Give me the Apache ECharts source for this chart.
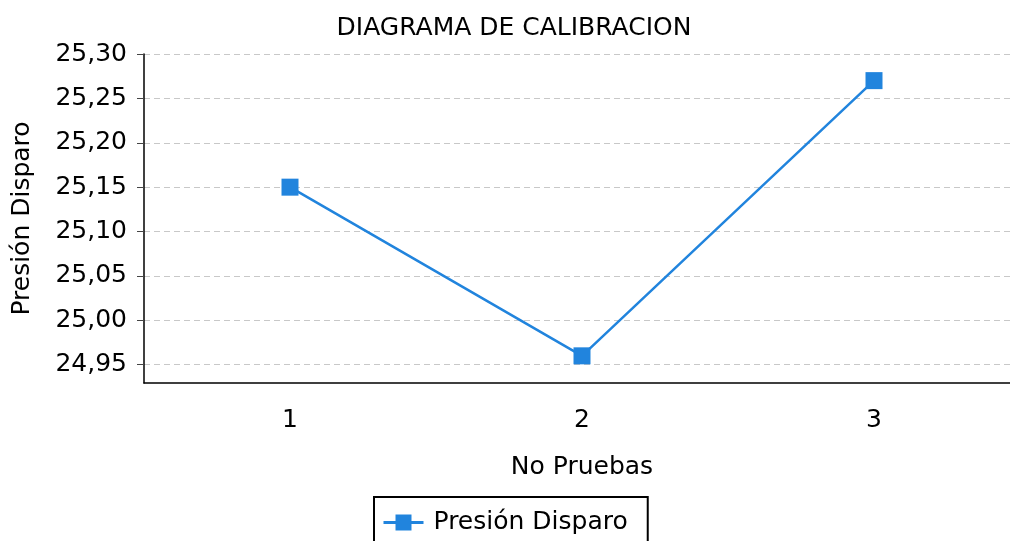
<!DOCTYPE html>
<html>
<head>
<meta charset="utf-8">
<script src="https://cdn.jsdelivr.net/npm/echarts@6/dist/echarts.min.js"></script>
<style>
  html, body { margin: 0; padding: 0; background: #fff; }
  #chart { width: 1010px; height: 541px; }
</style>
</head>
<body>
<div id="chart"></div>
<script>
// Data
var categories = ['1', '2', '3'];
var presionDisparo = [25.15, 24.96, 25.27];
var yTicks = [24.95, 25.00, 25.05, 25.10, 25.15, 25.20, 25.25, 25.30];

var chart_element = document.getElementById('chart');
var chart = echarts.init(chart_element);

var fontFamily = 'DejaVu Sans, sans-serif';

chart.setOption({
    color: ['#2184dd'],
    textStyle: {
        fontFamily: fontFamily
    },
    title: {
        text: 'DIAGRAMA DE CALIBRACION',
        left: 509,
        textAlign: 'center',
        top: 11,
        textStyle: {
            fontFamily: fontFamily,
            fontSize: 25,
            fontWeight: 'normal',
            color: '#000'
        }
    },
    legend: {
        bottom: -8,
        left: 374,
        itemWidth: 40,
        itemHeight: 20,
        borderColor: '#000',
        borderWidth: 2,
        padding: [13, 20, 14, 8],
        lineStyle: { width: 3 },
        textStyle: {
            fontFamily: fontFamily,
            fontSize: 25,
            color: '#000',
            padding: [0, 0, 0, 5]
        },
        data: ['Presión Disparo']
    },
    grid: {
        left: 144,
        top: 54,
        width: 876,
        height: 329,
        outerBoundsMode: 'none',
        containLabel: false
    },
    xAxis: {
        type: 'category',
        data: categories,
        boundaryGap: true,
        name: 'No Pruebas',
        nameLocation: 'middle',
        nameGap: 72,
        nameTextStyle: {
            fontFamily: fontFamily,
            fontSize: 25,
            color: '#000'
        },
        axisLine: { lineStyle: { color: '#000', width: 1.5 } },
        axisTick: {
            alignWithLabel: true,
            length: 6,
            lineStyle: { color: '#444' }
        },
        axisLabel: {
            fontFamily: fontFamily,
            fontSize: 25,
            color: '#000',
            margin: 25
        },
        splitLine: { show: false }
    },
    yAxis: {
        type: 'value',
        min: 24.9294,
        max: 25.30,
        name: 'Presión Disparo',
        nameLocation: 'middle',
        nameGap: 109,
        nameRotate: 90,
        nameTextStyle: {
            fontFamily: fontFamily,
            fontSize: 25,
            color: '#000'
        },
        axisLine: { show: true, lineStyle: { color: '#000', width: 1.5 } },
        axisTick: {
            show: true,
            length: 7,
            customValues: yTicks,
            lineStyle: { color: '#444' }
        },
        axisLabel: {
            customValues: yTicks,
            fontFamily: fontFamily,
            fontSize: 25,
            color: '#000',
            margin: 17,
            formatter: function (v) {
                return v.toFixed(2).replace('.', ',');
            }
        },
        splitLine: {
            show: true,
            lineStyle: { color: '#c8c8c8', type: [6, 4], width: 1 }
        }
    },
    series: [{
        name: 'Presión Disparo',
        type: 'line',
        data: presionDisparo,
        symbol: 'rect',
        symbolSize: 17,
        lineStyle: { width: 2.5 },
        itemStyle: { color: '#2184dd' },
        animation: false
    }]
});
</script>
</body>
</html>
